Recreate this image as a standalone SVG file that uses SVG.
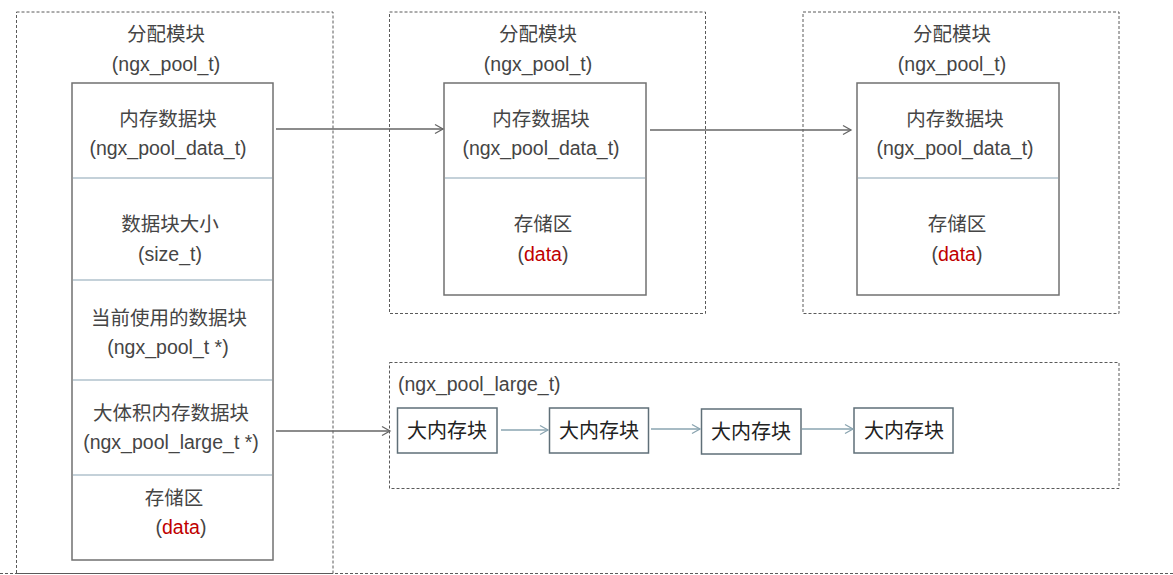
<svg xmlns="http://www.w3.org/2000/svg" width="1173" height="575" viewBox="0 0 1173 575">
<style>
.cont{fill:none;stroke:#5a5a5a;stroke-width:1;stroke-dasharray:3 2}
.box{fill:#fff;stroke:#707070;stroke-width:1.5}
.div{stroke:#8aa4b4;stroke-width:1.2}
.t{font-family:"Liberation Sans","Noto Sans CJK SC",sans-serif;font-size:19.5px;fill:#454545;text-anchor:middle}
.red{fill:#c00000}
.lb{fill:#fff;stroke:#5f6f78;stroke-width:1.5}
.lt{font-family:"Liberation Sans","Noto Sans CJK SC",sans-serif;font-size:20px;fill:#222;text-anchor:middle}
.c1{fill:none;stroke:#666;stroke-width:1.3}
.c2{fill:none;stroke:#8aa4b0;stroke-width:1.3}
</style>
<defs>
<marker id="ah" markerWidth="12" markerHeight="12" refX="10" refY="6" orient="auto" markerUnits="userSpaceOnUse">
<path d="M2,1.5 L10,6 L2,10.5" fill="none" stroke="#666" stroke-width="1.3"/>
</marker>
<marker id="ah2" markerWidth="12" markerHeight="12" refX="10" refY="6" orient="auto" markerUnits="userSpaceOnUse">
<path d="M2,1.5 L10,6 L2,10.5" fill="none" stroke="#8aa4b0" stroke-width="1.3"/>
</marker>
</defs>
<rect width="1173" height="575" fill="#fff"/>
<line x1="0" y1="573.5" x2="1173" y2="573.5" class="cont"/>

<g id="pool1">
<rect x="16.5" y="12" width="316.5" height="561.5" class="cont"/>
<text x="166" y="41" class="t">分配模块</text>
<text x="166" y="71" class="t">(ngx_pool_t)</text>
<rect x="72" y="83" width="201" height="477" class="box"/>
<line x1="73" y1="178" x2="272" y2="178" class="div"/>
<line x1="73" y1="280" x2="272" y2="280" class="div"/>
<line x1="73" y1="380" x2="272" y2="380" class="div"/>
<line x1="73" y1="475" x2="272" y2="475" class="div"/>
<text x="168" y="126" class="t">内存数据块</text>
<text x="168" y="155" class="t">(ngx_pool_data_t)</text>
<text x="170" y="231" class="t">数据块大小</text>
<text x="170" y="261" class="t">(size_t)</text>
<text x="169" y="325" class="t">当前使用的数据块</text>
<text x="168" y="354" class="t">(ngx_pool_t *)</text>
<text x="171" y="420" class="t">大体积内存数据块</text>
<text x="171" y="449" class="t">(ngx_pool_large_t *)</text>
<text x="174" y="505" class="t">存储区</text>
<text x="181" y="534" class="t">(<tspan class="red">data</tspan>)</text>
</g>

<g id="pool2">
<rect x="389.5" y="12" width="316" height="301.5" class="cont"/>
<text x="538" y="41" class="t">分配模块</text>
<text x="538" y="71" class="t">(ngx_pool_t)</text>
<rect x="444" y="83" width="202" height="212" class="box"/>
<line x1="445" y1="178" x2="645" y2="178" class="div"/>
<text x="541" y="126" class="t">内存数据块</text>
<text x="541" y="155" class="t">(ngx_pool_data_t)</text>
<text x="543" y="231" class="t">存储区</text>
<text x="543" y="261" class="t">(<tspan class="red">data</tspan>)</text>
</g>

<g id="pool3">
<rect x="803" y="12" width="316" height="301.5" class="cont"/>
<text x="952" y="41" class="t">分配模块</text>
<text x="952" y="71" class="t">(ngx_pool_t)</text>
<rect x="857" y="83" width="202" height="212" class="box"/>
<line x1="858" y1="178" x2="1058" y2="178" class="div"/>
<text x="955" y="126" class="t">内存数据块</text>
<text x="955" y="155" class="t">(ngx_pool_data_t)</text>
<text x="957" y="231" class="t">存储区</text>
<text x="957" y="261" class="t">(<tspan class="red">data</tspan>)</text>
</g>

<g id="large">
<rect x="389.5" y="362.5" width="729.5" height="126" class="cont"/>
<text x="398" y="391" class="t" style="text-anchor:start">(ngx_pool_large_t)</text>
</g>
<g id="lb1"><rect x="397.5" y="408" width="99.5" height="45" class="lb"/><text x="447" y="438" class="lt">大内存块</text></g>
<g id="lb2"><rect x="549.5" y="408" width="99" height="45" class="lb"/><text x="599" y="438" class="lt">大内存块</text></g>
<g id="lb3"><rect x="701.5" y="409" width="99.5" height="45" class="lb"/><text x="751" y="439" class="lt">大内存块</text></g>
<g id="lb4"><rect x="854" y="408" width="99" height="45" class="lb"/><text x="904" y="438" class="lt">大内存块</text></g>

<g id="connectors">
<line x1="276" y1="129" x2="443" y2="129" class="c1" marker-end="url(#ah)"/>
<line x1="650" y1="130" x2="851" y2="130" class="c1" marker-end="url(#ah)"/>
<line x1="276" y1="431" x2="390" y2="431" class="c1" marker-end="url(#ah)"/>
<line x1="501" y1="430" x2="548" y2="430" class="c2" marker-end="url(#ah2)"/>
<line x1="651" y1="429" x2="700" y2="429" class="c2" marker-end="url(#ah2)"/>
<line x1="802" y1="429" x2="853" y2="429" class="c2" marker-end="url(#ah2)"/>
</g>
</svg>
